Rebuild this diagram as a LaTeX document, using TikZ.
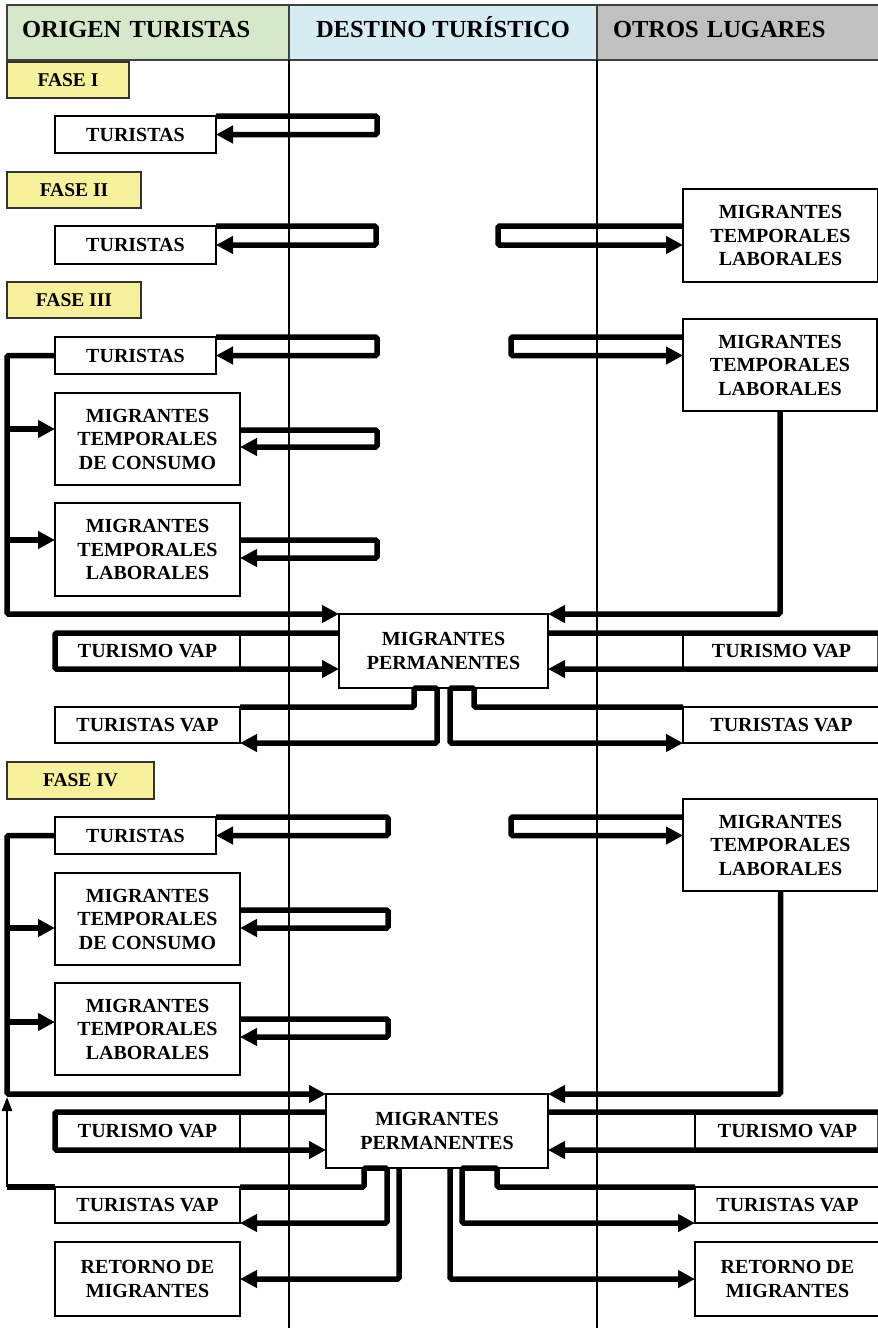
\documentclass[tikz,border=0pt]{standalone}
\usepackage{fontspec}
\setmainfont{Liberation Serif}
\usetikzlibrary{arrows.meta}
\definecolor{verdecab}{RGB}{213,232,201}
\definecolor{azulcab}{RGB}{213,236,243}
\definecolor{griscab}{RGB}{192,192,192}
\definecolor{amarillofase}{RGB}{247,241,156}

\begin{document}
\begin{tikzpicture}[x=1pt, y=-1pt,
  cab/.style={draw=black!75, line width=1.5pt, inner sep=0pt, outer sep=0pt, minimum height=55pt, font=\fontsize{24.5}{28}\selectfont\bfseries, text height=16pt, text depth=7pt},
  fase/.style={draw=black!80, line width=1.5pt, fill=amarillofase, inner sep=0pt, outer sep=0pt, font=\fontsize{19.5}{23}\selectfont\bfseries},
  caja/.style={draw, line width=1.3pt, fill=white, align=center, inner sep=0pt, outer sep=0pt, font=\fontsize{20}{23.5}\selectfont\bfseries},
  carril/.style={line width=1.3pt},
  flujo/.style={line width=5.5pt, rounded corners=1.5pt, -{Triangle[length=17pt,width=17pt]}},
  tramo/.style={line width=5.5pt},
  subida/.style={line width=2.5pt, -{Triangle[length=14pt,width=10pt]}}
]
\useasboundingbox (0,0) rectangle (878,1328);

\node[cab, fill=verdecab, minimum width=282pt, text width=252pt, align=left] (origen) at (148,32.5) {ORIGEN TURISTAS};
\node[cab, fill=azulcab, minimum width=308pt] (destino) at (443,32.5) {DESTINO TURÍSTICO};
\node[cab, fill=griscab, minimum width=284pt, text width=252pt, align=left] (otros) at (739,32.5) {OTROS LUGARES};
\draw[carril] (destino.south west) -- ++(0,1270);
\draw[carril] (otros.south west) -- ++(0,1270);

\node[fase, minimum width=122pt, minimum height=36pt] (f1) at (68,80) {FASE I};
\node[fase, minimum width=134pt, minimum height=36pt] (f2) at (74,190) {FASE II};
\node[fase, minimum width=134pt, minimum height=36pt] (f3) at (74,300) {FASE III};
\node[fase, minimum width=147pt, minimum height=37pt] (f4) at (80.5,780.5) {FASE IV};

% fase I
\node[caja, minimum width=161pt, minimum height=37pt] (tur1) at (135.5,134.5) {TURISTAS};
\draw[flujo] (tur1.north east) -- ++(161,0) |- (tur1.east);

% fase II
\node[caja, minimum width=161pt, minimum height=38pt] (tur2) at (135.5,245) {TURISTAS};
\node[caja, minimum width=195pt, minimum height=93pt] (mtl2) at (780.5,235.5) {MIGRANTES\\TEMPORALES\\LABORALES};
\draw[flujo] (tur2.north east) -- ++(160,0) |- (tur2.east);
\draw[flujo] (mtl2.west |- tur2.north) -- ++(-185,0) |- (mtl2.west |- tur2.east);

% fase III
\node[caja, minimum width=161pt, minimum height=37pt] (tur3) at (135.5,355.5) {TURISTAS};
\node[caja, minimum width=185pt, minimum height=92pt] (mtc3) at (147.5,439) {MIGRANTES\\TEMPORALES\\DE CONSUMO};
\node[caja, minimum width=185pt, minimum height=93pt] (mtl3) at (147.5,549.5) {MIGRANTES\\TEMPORALES\\LABORALES};
\node[caja, minimum width=194pt, minimum height=92pt] (mtl3r) at (780,365) {MIGRANTES\\TEMPORALES\\LABORALES};
\node[caja, minimum width=209pt, minimum height=74pt] (mp3) at (443.5,651) {MIGRANTES\\PERMANENTES};
\node[caja, minimum width=185pt, minimum height=36pt] (tv3) at (147.5,651) {TURISMO VAP};
\node[caja, minimum width=197pt, minimum height=36pt] (tv3r) at (781.5,651) {TURISMO VAP};
\node[caja, minimum width=185pt, minimum height=36pt] (tva3) at (147.5,725) {TURISTAS VAP};
\node[caja, minimum width=197pt, minimum height=36pt] (tva3r) at (781.5,725) {TURISTAS VAP};

\draw[flujo] (tur3.north east) -- ++(161,0) |- (tur3.east);
\draw[flujo] ([yshift=9pt]mtc3.east) -- ++(137,0) |- ([yshift=-8pt]mtc3.east);
\draw[flujo] ([yshift=9.5pt]mtl3.east) -- ++(137,0) |- ([yshift=-8.5pt]mtl3.east);
\draw[flujo] (tur3.west) -- ++(-48,0) |- (mp3.north west);
\draw[flujo] ([yshift=10pt]mtc3.west) ++(-48,0) -- ++(48,0);
\draw[flujo] ([yshift=9.5pt]mtl3.west) ++(-48,0) -- ++(48,0);
\draw[flujo] (mtl3r.west |- tur3.north) -- ++(-172,0) |- (mtl3r.west |- tur3.east);
\draw[flujo] (mtl3r.south) |- (mp3.north east);
\draw[flujo] (mp3.west |- tv3.north) -- (tv3.north west) -- (tv3.south west) -- (mp3.west |- tv3.south);
\draw[flujo] (mp3.east |- tv3r.north) -- (tv3r.north east) -- (tv3r.south east) -- (mp3.east |- tv3r.south);
\draw[flujo] (tva3.north east) -| ([xshift=-29.5pt]mp3.south) -- ([xshift=-6.5pt]mp3.south) |- (tva3.south east);
\draw[flujo] (tva3r.north west) -| ([xshift=30.5pt]mp3.south) -- ([xshift=6.5pt]mp3.south) |- (tva3r.south west);

% fase IV
\node[caja, minimum width=161pt, minimum height=37pt] (tur4) at (135.5,835.5) {TURISTAS};
\node[caja, minimum width=185pt, minimum height=92pt] (mtc4) at (147.5,919) {MIGRANTES\\TEMPORALES\\DE CONSUMO};
\node[caja, minimum width=185pt, minimum height=92pt] (mtl4) at (147.5,1029) {MIGRANTES\\TEMPORALES\\LABORALES};
\node[caja, minimum width=195pt, minimum height=92pt] (mtl4r) at (780.5,845) {MIGRANTES\\TEMPORALES\\LABORALES};
\node[caja, minimum width=222pt, minimum height=74pt] (mp4) at (437,1131) {MIGRANTES\\PERMANENTES};
\node[caja, minimum width=185pt, minimum height=38pt] (tv4) at (147.5,1131) {TURISMO VAP};
\node[caja, minimum width=185pt, minimum height=38pt] (tv4r) at (787.5,1131) {TURISMO VAP};
\node[caja, minimum width=185pt, minimum height=36pt] (tva4) at (147.5,1205) {TURISTAS VAP};
\node[caja, minimum width=185pt, minimum height=36pt] (tva4r) at (787.5,1205) {TURISTAS VAP};
\node[caja, minimum width=185pt, minimum height=74pt] (ret4) at (147.5,1279) {RETORNO DE\\MIGRANTES};
\node[caja, minimum width=185pt, minimum height=74pt] (ret4r) at (787.5,1279) {RETORNO DE\\MIGRANTES};

\draw[flujo] (tur4.north east) -- ++(172,0) |- (tur4.east);
\draw[flujo] ([yshift=9pt]mtc4.east) -- ++(148,0) |- ([yshift=-9pt]mtc4.east);
\draw[flujo] ([yshift=10pt]mtl4.east) -- ++(148,0) |- ([yshift=-8pt]mtl4.east);
\draw[flujo] (tur4.west) -- ++(-48,0) |- (mp4.north west);
\draw[flujo] ([yshift=-9pt]mtc4.west) ++(-48,0) -- ++(48,0);
\draw[flujo] ([yshift=7pt]mtl4.west) ++(-48,0) -- ++(48,0);
\draw[tramo] (tva4.north west) -- ++(-48,0);
\draw[subida] (tva4.north west) ++(-48,0) -- ++(0,-90);
\draw[flujo] (mtl4r.west |- tur4.north) -- ++(-172,0) |- (mtl4r.west |- tur4.east);
\draw[flujo] (mtl4r.south) |- (mp4.north east);
\draw[flujo] (mp4.west |- tv4.north) -- (tv4.north west) -- (tv4.south west) -- (mp4.west |- tv4.south);
\draw[flujo] (mp4.east |- tv4r.north) -- (tv4r.north east) -- (tv4r.south east) -- (mp4.east |- tv4r.south);
\draw[flujo] (tva4.north east) -| ([xshift=-73pt]mp4.south) -- ([xshift=-50pt]mp4.south) |- (tva4.south east);
\draw[flujo] ([xshift=-38pt]mp4.south) |- (ret4.east);
\draw[flujo] (tva4r.north west) -| ([xshift=60pt]mp4.south) -- ([xshift=25pt]mp4.south) |- (tva4r.south west);
\draw[flujo] ([xshift=13pt]mp4.south) |- (ret4r.west);
\end{tikzpicture}
\end{document}
